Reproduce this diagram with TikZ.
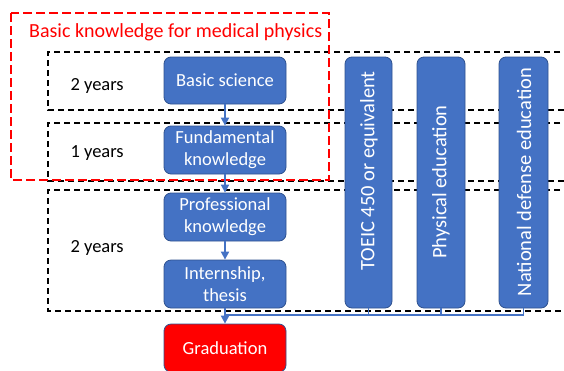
\documentclass[tikz,border=0pt]{standalone}
\usepackage{fontspec}
\setmainfont{Carlito}
\usetikzlibrary{arrows.meta}
\definecolor{obl}{HTML}{4472C4}
\definecolor{obd}{HTML}{2F528F}
\begin{document}
\begin{tikzpicture}[x=1pt,y=-1pt,
  bbox/.style={draw=obd, line width=0.8pt, fill=obl, rounded corners=7pt, text=white, align=center, font=\fontsize{18.5}{22}\selectfont, inner sep=0pt},
  yearbox/.style={draw=black, dash pattern=on 6pt off 4pt, line width=1.2pt},
  conn/.style={draw=obl, line width=1.8pt, -{Triangle[length=8pt,width=8pt]}},
  thin/.style={draw=obl, line width=1.1pt},
  vtext/.style={rotate=90, text=white, font=\fontsize{20.5}{24}\selectfont},
  lbl/.style={font=\fontsize{18.5}{22}\selectfont, anchor=west}]
\useasboundingbox (0,0) rectangle (564,370);
% dashed year boxes
\draw[yearbox] (570,52) -- (48,52) -- (48,110) -- (570,110);
\draw[yearbox] (570,123) -- (48,123) -- (48,181) -- (570,181);
\draw[yearbox] (570,190) -- (48,190) -- (48,311) -- (570,311);
% red box
\draw[red, dash pattern=on 9pt off 4pt, line width=1.8pt] (11,13) rectangle (329,180);
\node[text=red, font=\fontsize{20}{24}\selectfont, anchor=west, inner sep=0pt] (title) at (29,32) {Basic knowledge for medical physics};
% year labels
\node[lbl] (y1) at (67,86) {2 years};
\node[lbl] (y2) at (67,153) {1 years};
\node[lbl] (y3) at (67,248) {2 years};
% left column boxes
\node[bbox, minimum width=122pt, minimum height=47pt] (bs) at (225,80.5) {Basic science};
\node[bbox, minimum width=122pt, minimum height=48pt] (fk) at (225,150) {Fundamental\\knowledge};
\node[bbox, minimum width=122pt, minimum height=48pt] (pk) at (225,217) {Professional\\knowledge};
\node[bbox, minimum width=122pt, minimum height=48pt] (it) at (225,284) {Internship,\\thesis};
\node[bbox, fill=red, minimum width=122pt, minimum height=48pt] (gr) at (225,348) {Graduation};
% vertical boxes
\node[bbox, minimum width=47pt, minimum height=251pt] (toeic) at (368.5,182.5) {};
\node[bbox, minimum width=48pt, minimum height=251pt] (pe) at (441,182.5) {};
\node[bbox, minimum width=49pt, minimum height=251pt] (nd) at (523.5,182.5) {};
\node[vtext] (t1) at (369,171) {TOEIC 450 or equivalent};
\node[vtext] (t2) at (441,182) {Physical education};
\node[vtext] (t3) at (524,182) {National defense education};
% connectors
\draw[conn] (bs.south) -- (fk.north);
\draw[conn] (fk.south) -- (pk.north);
\draw[conn] (pk.south) -- (it.north);
\draw[conn] (it.south) -- (gr.north);
\coordinate (j) at (225,315);
\draw[thin] (toeic.south) |- (j);
\draw[thin] (pe.south) |- (j);
\draw[thin] (nd.south) |- (j);
\end{tikzpicture}
\end{document}
